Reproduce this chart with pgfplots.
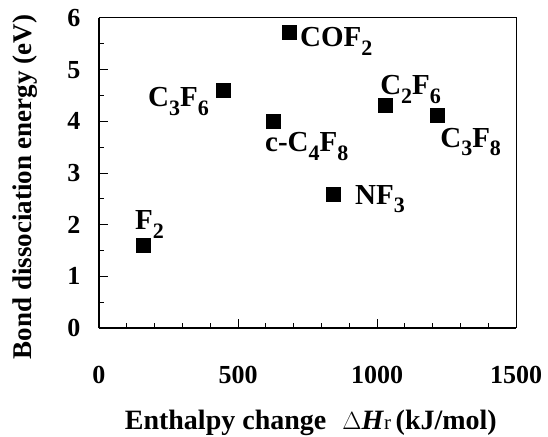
\documentclass[border=0pt]{standalone}
\usepackage{fontspec}
\setmainfont{Liberation Serif}
\usepackage{pgfplots}
\pgfplotsset{compat=1.18}
\newcommand\tickfont{\bfseries\fontsize{26}{30}\selectfont}
\newcommand\labfont{\bfseries\fontsize{27}{31}\selectfont}
\newcommand\molfont{\bfseries\fontsize{29}{33}\selectfont}
\newcommand\sub[1]{\raisebox{-0.3em}{\fontsize{22}{22}\selectfont #1}}
\begin{document}
\begin{tikzpicture}
\begin{axis}[
  scale only axis, width=417pt, height=310pt,
  xmin=0, xmax=1500, ymin=0, ymax=6,
  xtick={0,500,1000,1500}, minor x tick num=4,
  ytick={0,1,...,6}, minor y tick num=1,
  xtick pos=left, ytick pos=left, tick align=inside,
  major tick length=9pt, minor tick length=5pt,
  every tick/.style={black, line width=1pt},
  axis x line*=bottom, axis y line*=left,
  axis line style={line width=1.6pt, -},
  /pgf/number format/assume math mode=true,
  /pgf/number format/set thousands separator={},
  tick label style={font=\tickfont},
  xticklabel style={yshift=-35pt},
  yticklabel style={xshift=-15pt},
  xlabel={Enthalpy change\hspace{16pt}$\Delta$\textit{H}{\fontsize{21}{21}\selectfont\mdseries r}\,(kJ/mol)},
  ylabel={Bond dissociation energy (eV)},
  xlabel style={font=\labfont\fontsize{28}{32}\selectfont, at={(axis description cs:0.508,-0.327)}, anchor=base},
  ylabel style={font=\labfont, at={(axis description cs:-0.178,0.455)}, anchor=center},
  clip=false,
]
\addplot[only marks, mark=square*, mark size=7pt, black] coordinates {
  (158,1.61) (446,4.61) (626,4.0) (683,5.72) (1029,4.32) (1216,4.12) (842,2.59)
};
\draw[line width=1pt] (rel axis cs:0,1) -- (rel axis cs:1,1) -- (rel axis cs:1,0);
\begin{scope}[every node/.style={font=\molfont, anchor=base west, inner sep=0pt}]
\node at (axis cs:129,1.90) {F\sub{2}};
\node at (axis cs:176,4.28) {C\sub{3}F\sub{6}};
\node at (axis cs:597,3.41) {c-C\sub{4}F\sub{8}};
\node at (axis cs:723,5.44) {COF\sub{2}};
\node at (axis cs:1011,4.51) {C\sub{2}F\sub{6}};
\node at (axis cs:1227,3.50) {C\sub{3}F\sub{8}};
\node at (axis cs:921,2.40) {NF\sub{3}};
\end{scope}
\end{axis}
\pgfresetboundingbox
\path (current axis.south west) ++(-99pt,-108pt) rectangle ++(548pt,436pt);
\end{tikzpicture}
\end{document}
